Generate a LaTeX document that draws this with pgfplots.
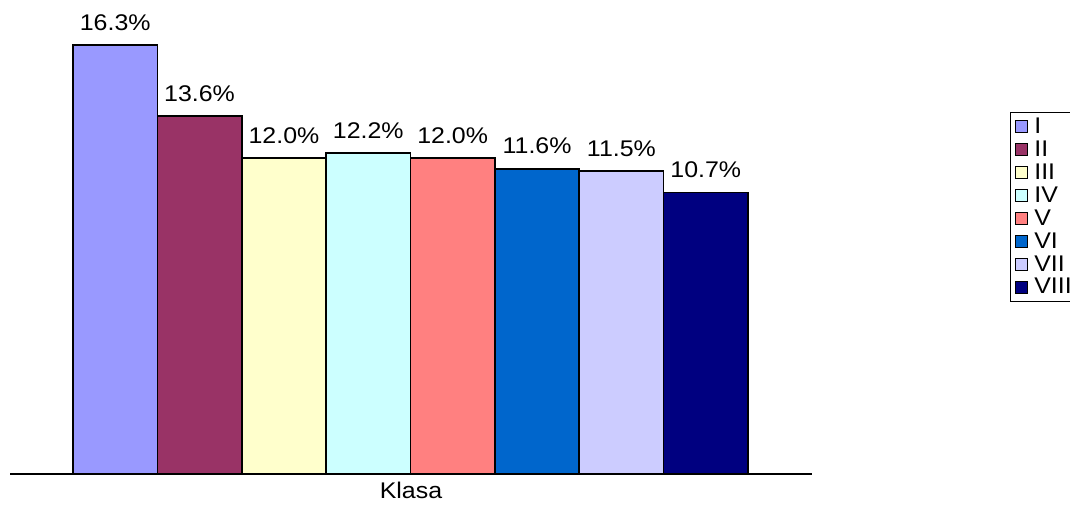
\documentclass[border=0pt]{standalone}
\usepackage{pgfplots}
\pgfplotsset{compat=1.18}
\usepackage{fontspec}
\setmainfont{Liberation Sans}[FakeStretch=1.1]
\definecolor{cI}{HTML}{9999FF}
\definecolor{cII}{HTML}{993366}
\definecolor{cIII}{HTML}{FFFFCC}
\definecolor{cIV}{HTML}{CCFFFF}
\definecolor{cV}{HTML}{FF8080}
\definecolor{cVI}{HTML}{0066CC}
\definecolor{cVII}{HTML}{CCCCFF}
\definecolor{cVIII}{HTML}{000080}
\begin{document}
\begin{tikzpicture}[x=1pt,y=1pt]
\begin{axis}[
  scale only axis,
  width=601.5pt, height=321.75pt,
  xmin=-1.247, xmax=8.259,
  ymin=0, ymax=16.3,
  clip=false,
  /pgf/number format/assume math mode=true,
  axis x line=bottom, axis y line=none,
  x axis line style={line width=1.5pt,-},
  xtick=\empty, ytick=\empty,
  xlabel={Klasa},
  xlabel style={font=\fontsize{17}{19}\selectfont, yshift=2pt},
  ybar, bar width=1,
  every axis plot/.append style={bar shift=0pt, draw=black, line width=1.3pt},
  nodes near coords={\pgfmathprintnumber[fixed,fixed zerofill,precision=1]{\pgfplotspointmeta}\%},
  every node near coord/.append style={font=\fontsize{17}{19}\selectfont, black, anchor=south, yshift=7pt},
  legend style={at={(1.247,0.844)}, anchor=north west, draw=black, line width=0.9pt,
    font=\fontsize{17}{18}\selectfont, row sep=0pt, inner xsep=3pt, inner ysep=2pt,
    cells={anchor=west}},
  legend image code/.code={\draw[#1, line width=0.9pt] (0pt,-4.5pt) rectangle (9pt,4.5pt);},
  legend cell align=left,
]
\addplot[fill=cI] coordinates {(0,16.3)};
\addplot[fill=cII] coordinates {(1,13.6)};
\addplot[fill=cIII] coordinates {(2,12.0)};
\addplot[fill=cIV] coordinates {(3,12.2)};
\addplot[fill=cV] coordinates {(4,12.0)};
\addplot[fill=cVI] coordinates {(5,11.6)};
\addplot[fill=cVII] coordinates {(6,11.5)};
\addplot[fill=cVIII] coordinates {(7,10.7)};
\legend{\,I,\,II,\,III,\,IV,\,V,\,VI,\,VII,\,VIII}
\end{axis}
\pgfresetboundingbox
\useasboundingbox (-7.5pt,-24pt) rectangle (795pt,355.5pt);
\end{tikzpicture}
\end{document}
